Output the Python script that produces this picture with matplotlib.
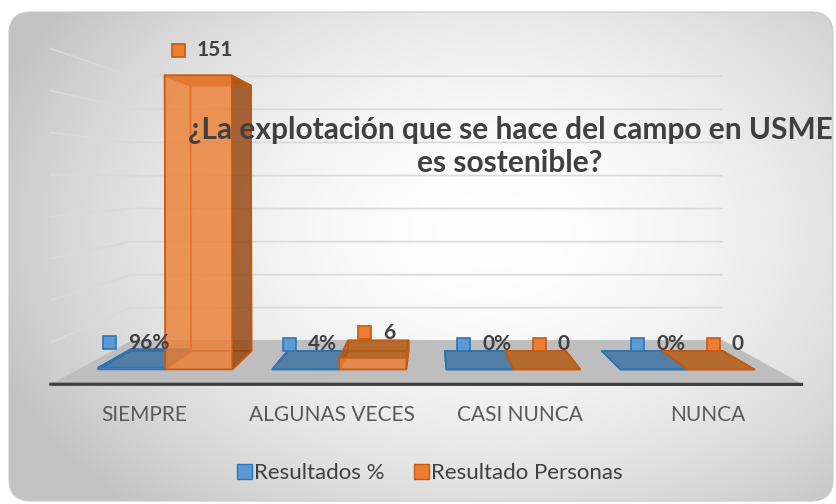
import numpy as np
import matplotlib
matplotlib.use("Agg")
import matplotlib.pyplot as plt
from matplotlib.patches import FancyBboxPatch, Rectangle, Patch
from matplotlib.offsetbox import AnnotationBbox, HPacker, DrawingArea, TextArea
from mpl_toolkits.mplot3d import proj3d

# datos del grafico
categorias = ["SIEMPRE", "ALGUNAS VECES", "CASI NUNCA", "NUNCA"]
resultados_pct = [0.96, 0.04, 0.0, 0.0]
resultado_personas = [151, 6, 0, 0]
etiquetas_pct = ["96%", "4%", "0%", "0%"]
etiquetas_personas = ["151", "6", "0", "0"]
series = ["Resultados %", "Resultado Personas"]
titulo = "¿La explotación que se hace del campo en USME\nes sostenible?"
ticks_valores = [20, 40, 60, 80, 100, 120, 140, 160]

AZUL = "#5B9BD5"
AZUL_BORDE = "#2E75B6"
NARANJA = "#ED7D31"
NARANJA_BORDE = "#C55A11"
GRIS_TEXTO = "#404040"

plt.rcParams["font.family"] = ["Lato", "DejaVu Sans"]

W, H = 836, 504
fig = plt.figure(figsize=(W / 100, H / 100), dpi=100)
fig.patch.set_facecolor("white")

# fondo con degradado y esquinas redondeadas
bg = fig.add_axes([0, 0, 1, 1])
bg.axis("off")
yy, xx = np.mgrid[0:H, 0:W]
r = np.sqrt(((xx - 490) / 490.0) ** 2 + ((yy - 230) / 350.0) ** 2)
tono = (255 - 52 * np.clip(r, 0, 1.08) ** 1.8) / 255.0
img = np.dstack([tono, tono, tono])
marco = FancyBboxPatch((9, 12), 824, 489, boxstyle="round,pad=0,rounding_size=22",
                       fc="none", ec="#C8C8C8", lw=0.8)
bg.add_patch(marco)
im = bg.imshow(img, extent=(0, W, H, 0), aspect="auto")
im.set_clip_path(marco)
bg.set_xlim(0, W)
bg.set_ylim(H, 0)

# ejes 3D
ax = fig.add_axes([-2.8 / W, -137.4 / H, 836.0 / W, 836.0 / H], projection="3d")
ax.patch.set_visible(False)
ax.set_proj_type("persp", focal_length=0.4)
ax.view_init(elev=1.04, azim=-89.9)

x = np.arange(len(categorias))
w = 0.385
y0, dy = 0.29, 0.43
transp = (0, 0, 0, 0)


def caras(frente, tapa, lado, n):
    # orden de caras en bar3d: -Z, +Z, -Y, +Y, -X, +X
    return [transp, tapa, frente, transp, transp, lado] * n


n = len(categorias)
ax.bar3d(x - w, [y0] * n, [0] * n, w, dy, resultados_pct,
         color=caras((0.357, 0.608, 0.835, 0.8), (0.22, 0.43, 0.63, 0.8), (0.2, 0.4, 0.6, 0.8), n),
         edgecolor=AZUL_BORDE, linewidth=1.1, shade=False)
ax.bar3d(x, [y0] * n, [0] * n, w, dy, resultado_personas,
         color=caras((0.929, 0.49, 0.192, 0.8), (0.70, 0.34, 0.05, 0.8), (0.57, 0.25, 0.04, 0.8), n),
         edgecolor=NARANJA_BORDE, linewidth=1.1, shade=False)

xlim = (-0.5, len(categorias) - 0.5)
ax.plot(xlim, [0, 0], [0, 0], color="#3F3F3F", lw=2.3)

ax.set_xlim(*xlim)
ax.set_ylim(0, 1)
ax.set_zlim(0, 160)

aspect = np.array([1.4707, 0.9577, 0.6576])
ax.set_box_aspect(aspect)
k = np.linalg.norm(ax._box_aspect) / np.linalg.norm(aspect)
ax.set_box_aspect(aspect, zoom=0.98 / k)

ax.set_xticks([])
ax.set_yticks([])
ax.set_zticks(ticks_valores)
ax.set_zticklabels([])
for eje in (ax.xaxis, ax.yaxis, ax.zaxis):
    eje.line.set_color((0, 0, 0, 0))
    eje._axinfo["tick"]["inward_factor"] = 0
    eje._axinfo["tick"]["outward_factor"] = 0
    eje._axinfo["grid"]["color"] = "#D9D9D9"
    eje._axinfo["grid"]["linewidth"] = 1.2
ax.xaxis.set_pane_color((1, 1, 1, 0))
ax.yaxis.set_pane_color((1, 1, 1, 0))
ax.zaxis.set_pane_color("#BEBEBE")

M = ax.get_proj()


def proyectar(xs, ys, zs):
    px, py, _ = proj3d.proj_transform(np.asarray(xs, float), np.asarray(ys, float),
                                      np.asarray(zs, float), M)
    return px, py


def etiqueta(px, py, texto, fc, ec):
    da = DrawingArea(9.4, 9.4)
    da.add_artist(Rectangle((0, 0), 9.4, 9.4, fc=fc, ec=ec, lw=1.2))
    ta = TextArea(texto, textprops=dict(fontsize=15, fontweight="bold", color=GRIS_TEXTO))
    caja = HPacker(children=[da, ta], align="center", pad=0, sep=8.6)
    ab = AnnotationBbox(caja, (px, py), xycoords="data", xybox=(3, 18),
                        boxcoords="offset points", frameon=False,
                        box_alignment=(0.5, 0.5), zorder=100)
    ax.add_artist(ab)


pxa, pya = proyectar(x - w / 2, [y0] * n, resultados_pct)
pxn, pyn = proyectar(x + w / 2, [y0] * n, resultado_personas)
for i in range(n):
    etiqueta(pxa[i], pya[i], etiquetas_pct[i], AZUL, AZUL_BORDE)
    etiqueta(pxn[i], pyn[i], etiquetas_personas[i], NARANJA, NARANJA_BORDE)

pxc, pyc = proyectar(x, [0] * n, [0] * n)
for i, cat in enumerate(categorias):
    ax.annotate(cat, xy=(pxc[i], pyc[i]), xycoords="data", xytext=(0, -22.3),
                textcoords="offset points", ha="center", va="center",
                fontsize=15, color="#595959", zorder=100)

fig.text(510 / W, 1 - 146.5 / H, titulo, ha="center", va="center", fontsize=21.5,
         fontweight="bold", color=GRIS_TEXTO, linespacing=1.25)

manijas = [Patch(facecolor=AZUL, edgecolor=AZUL_BORDE), Patch(facecolor=NARANJA, edgecolor=NARANJA_BORDE)]
fig.legend(manijas, series, loc="center", bbox_to_anchor=(430 / W, 1 - 473 / H), ncol=2,
           frameon=False, fontsize=16, handlelength=0.65, handleheight=0.65,
           handletextpad=0.12, columnspacing=1.32, labelcolor=GRIS_TEXTO)

fig.savefig("out.png", dpi=100)
